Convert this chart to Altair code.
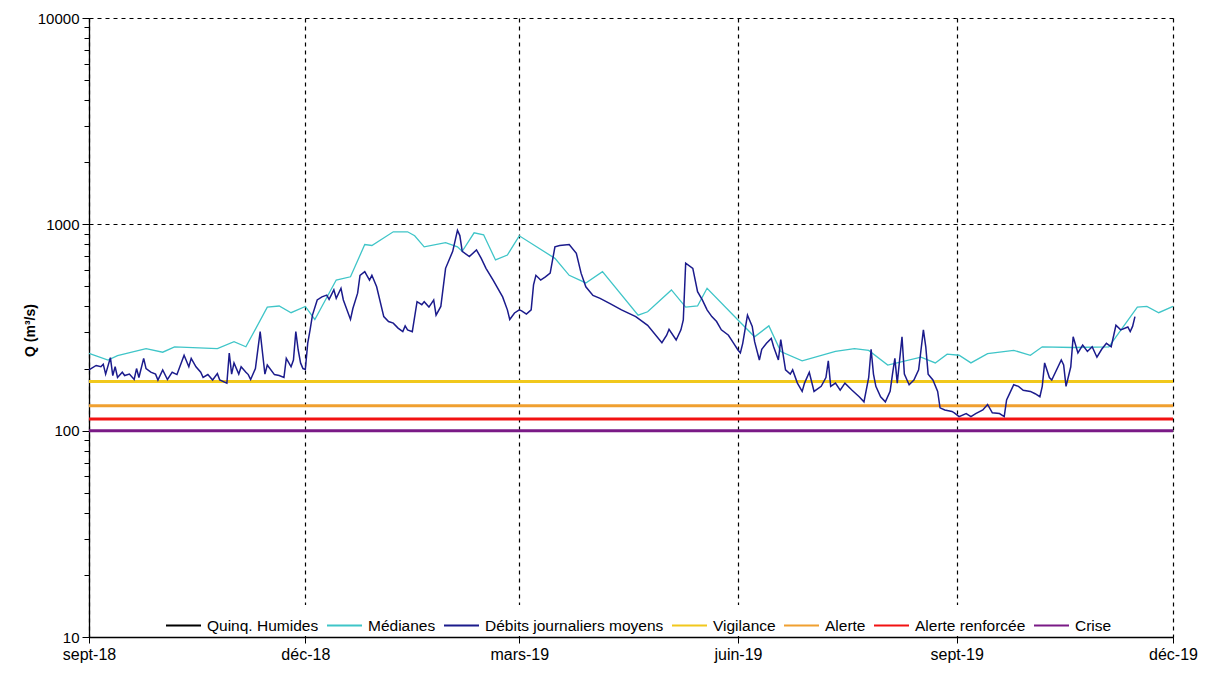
import altair as alt
import pandas as pd

START = "2018-09-01"

# Débits journaliers moyens (day offset from 2018-09-01, m3/s)
debit_day = [0, 3, 5, 6, 7, 9, 10, 11, 12, 14, 15, 17, 19, 20, 21, 23, 24, 26, 28, 29, 31, 33, 35, 37, 40, 42, 43, 45, 47, 48,
             50, 52, 54, 55, 58, 59, 60, 61, 63, 64, 66, 67, 68, 70, 72, 73, 74, 75, 78, 80, 82, 83, 85, 86, 87, 88, 89, 90, 91, 92,
             93, 94, 96, 98, 100, 101, 103, 104, 106, 107, 110, 111, 113, 114, 116, 118, 119, 121, 124, 126, 128, 130, 132, 133, 134, 136, 138, 140, 141, 143,
             145, 146, 148, 150, 153, 155, 156, 157, 160, 163, 165, 167, 170, 174, 176, 177, 179, 181, 182, 184, 186, 187, 188, 190, 192, 194, 196, 198, 202, 205,
             207, 209, 212, 215, 219, 224, 230, 235, 241, 243, 244, 247, 249, 250, 251, 254, 256, 258, 260, 262, 264, 266, 269, 271, 273, 274, 275, 277, 279, 280,
             282, 283, 285, 287, 288, 290, 291, 293, 295, 296, 298, 300, 301, 303, 305, 308, 310, 311, 312, 314, 316, 318, 321, 324, 326, 328, 329, 330, 331, 333,
             335, 337, 338, 339, 340, 342, 343, 345, 347, 349, 351, 352, 353, 355, 357, 358, 360, 363, 364, 366, 369, 371, 373, 376, 378, 380, 383, 385, 386, 387,
             389, 391, 393, 396, 398, 400, 401, 402, 404, 405, 409, 410, 411, 413, 414, 416, 418, 420, 422, 424, 426, 428, 430, 432, 434, 437, 438, 439, 440]
debit_val = [197, 207, 204, 210, 188, 226, 185, 204, 181, 192, 185, 188, 177, 200, 181, 224, 200, 192, 188, 176, 197, 177, 192, 187, 232, 204, 224, 204, 192, 181,
             187, 176, 189, 176, 170, 238, 188, 213, 188, 204, 192, 187, 177, 200, 302, 238, 188, 208, 187, 185, 181, 224, 204, 220, 302, 246, 213, 200, 198, 265,
             308, 363, 430, 445, 454, 433, 481, 438, 490, 430, 346, 391, 464, 566, 590, 537, 566, 498, 357, 338, 332, 314, 302, 322, 308, 302, 422, 408, 422, 397,
             430, 363, 400, 612, 740, 935, 882, 740, 698, 752, 684, 612, 537, 445, 385, 346, 372, 385, 381, 367, 385, 509, 566, 537, 557, 580, 778, 790, 798, 724,
             580, 498, 452, 438, 414, 385, 357, 324, 267, 290, 310, 275, 308, 344, 648, 612, 472, 430, 385, 357, 338, 308, 290, 267, 246, 238, 265, 363, 320, 270,
             220, 248, 265, 280, 255, 220, 276, 197, 188, 197, 170, 155, 170, 192, 155, 164, 181, 218, 164, 170, 157, 170, 157, 146, 138, 181, 248, 188, 164, 146,
             138, 155, 188, 224, 170, 285, 188, 167, 176, 197, 308, 255, 188, 176, 155, 129, 126, 124, 122, 117, 121, 117, 121, 126, 134, 122, 121, 117, 141, 149,
             167, 164, 157, 155, 151, 146, 164, 213, 181, 176, 220, 208, 164, 204, 285, 238, 260, 242, 255, 227, 248, 265, 255, 324, 308, 318, 302, 320, 357]

# Médianes (day offset, m3/s)
med_day = [0, 8, 12, 24, 31, 36, 54, 61, 66, 75, 80, 85, 91, 95, 104, 110, 116, 119, 128, 134, 137, 141, 150, 155, 157, 162, 166, 171, 176, 181,
           196, 202, 209, 216, 231, 235, 245, 251, 256, 260, 273, 280, 286, 291, 300, 314, 322, 328, 336, 350, 356, 361, 366, 371, 378, 389, 396, 401, 414, 429,
           441, 445, 450, 456]
med_val = [237, 220, 231, 250, 240, 255, 250, 270, 255, 397, 402, 373, 400, 346, 537, 557, 798, 790, 920, 920, 880, 778, 815, 778, 740, 910, 890, 672, 710, 880,
           684, 566, 520, 590, 363, 377, 481, 397, 402, 490, 344, 285, 322, 242, 218, 242, 250, 245, 208, 227, 213, 235, 232, 213, 236, 245, 232, 255, 253, 255,
           397, 400, 373, 400]

threshold_names = ["Vigilance", "Alerte", "Alerte renforcée", "Crise"]
threshold_vals = [173, 132, 114, 100]

series_names = ["Quinq. Humides", "Médianes", "Débits journaliers moyens",
                "Vigilance", "Alerte", "Alerte renforcée", "Crise"]
series_colors = ["#000000", "#3FC5C8", "#1B1B8C", "#F1C81C", "#F0A030", "#F21212", "#7A1A86"]

tick_dates = ["2018-09-01", "2018-12-01", "2019-03-01", "2019-06-01", "2019-09-01", "2019-12-01"]
tick_labels = ["sept-18", "déc-18", "mars-19", "juin-19", "sept-19", "déc-19"]
y_major = [10, 100, 1000, 10000]

FONT = "Liberation Sans"

start = pd.Timestamp(START)
debit_df = pd.DataFrame({
    "date": [(start + pd.Timedelta(days=d)).strftime("%Y-%m-%dT00:00:00") for d in debit_day],
    "q": debit_val, "serie": "Débits journaliers moyens"})
med_df = pd.DataFrame({
    "date": [(start + pd.Timedelta(days=d)).strftime("%Y-%m-%dT00:00:00") for d in med_day],
    "q": med_val, "serie": "Médianes"})
thr_df = pd.DataFrame({"serie": threshold_names, "q": threshold_vals})


def dt(s):
    t = pd.Timestamp(s)
    return alt.DateTime(year=t.year, month=t.month, date=t.day)


label_expr = ""
for d, l in zip(tick_dates, tick_labels):
    label_expr += f"timeFormat(datum.value, '%Y-%m-%d') == '{d}' ? '{l}' : "
label_expr += "''"

y_values = []
for k in range(1, 4):
    for m in range(1, 10):
        y_values.append(m * 10 ** k)
y_values.append(10000)
major_test = "indexof(" + str(y_major) + ", datum.value) >= 0"

x_scale = alt.Scale(domain=[dt(tick_dates[0]), dt(tick_dates[-1])])
y_scale = alt.Scale(type="log", domain=[10, 10000])
color_scale = alt.Scale(domain=series_names, range=series_colors)

x_axis = alt.Axis(values=[dt(d) for d in tick_dates], labelExpr=label_expr, title=None,
                  grid=True, gridDash=[4, 4], gridColor="#000000", gridWidth=1.2,
                  tickSize=6, tickColor="#000000", domainColor="#000000", domainWidth=1.3,
                  labelFont=FONT, labelFontSize=16, labelColor="#000000", labelPadding=3,
                  labelFlush=False)
y_axis = alt.Axis(values=y_values,
                  labelExpr="indexof(" + str(y_major) + ", datum.value) >= 0 ? datum.value : ''",
                  title="Q (m³/s)", titleFont=FONT, titleFontSize=14, titleFontWeight="bold",
                  titleColor="#000000", titleX=-59, titleY=312, titleAlign="center",
                  titleBaseline="middle", titleAngle=270,
                  grid=True, gridDash=[4, 4], gridColor="#000000", gridWidth=1.2,
                  gridOpacity={"condition": {"test": major_test, "value": 1}, "value": 0},
                  tickSize={"condition": {"test": major_test, "value": 7}, "value": 5},
                  tickColor="#000000", domainColor="#000000", domainWidth=1.3,
                  labelFont=FONT, labelFontSize=15, labelColor="#000000", labelPadding=3,
                  labelFlush=False, labelOverlap=False)

legend = alt.Legend(title=None, orient="none", direction="horizontal", legendX=74, legendY=587,
                    symbolType="stroke", symbolSize=1225, symbolStrokeWidth=2,
                    labelFont=FONT, labelFontSize=15.5, labelColor="#000000", labelLimit=0,
                    labelOffset=5, columnPadding=4, padding=2, columns=7,
                    fillColor="#ffffff")

thr = alt.Chart(thr_df).mark_rule(strokeWidth=3).encode(
    y=alt.Y("q:Q", scale=y_scale, axis=y_axis),
    color=alt.Color("serie:N", scale=color_scale, legend=legend),
)
med = alt.Chart(med_df).mark_line(strokeWidth=1.3, interpolate="linear").encode(
    x=alt.X("date:T", scale=x_scale, axis=x_axis),
    y=alt.Y("q:Q", scale=y_scale, axis=y_axis),
    color=alt.Color("serie:N", scale=color_scale, legend=legend),
)
deb = alt.Chart(debit_df).mark_line(strokeWidth=1.5, interpolate="linear").encode(
    x=alt.X("date:T", scale=x_scale, axis=x_axis),
    y=alt.Y("q:Q", scale=y_scale, axis=y_axis),
    color=alt.Color("serie:N", scale=color_scale, legend=legend),
)

chart = alt.layer(thr, med, deb).properties(
    width=1084, height=619,
    autosize="none",
    padding={"left": 81, "top": 10, "right": 27, "bottom": 30},
    background="#ffffff",
).configure_view(stroke=None)

chart.save("out.html", embed_options={"renderer": "svg", "actions": False})
